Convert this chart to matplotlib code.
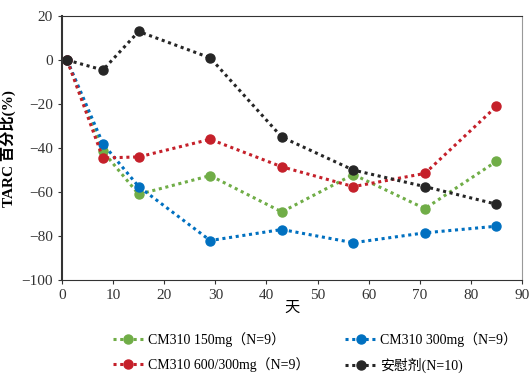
import matplotlib
matplotlib.use('Agg')
import matplotlib.pyplot as plt

plt.rcParams['font.family'] = ['Liberation Serif', 'Noto Sans CJK SC']

days = [1, 8, 15, 29, 43, 57, 71, 85]
cm150 = [0, -41.5, -61, -52.5, -69, -52, -67.5, -46]
cm300 = [0, -38, -57.5, -82, -77, -83, -78.5, -75.5]
cm600 = [0, -44.5, -44, -36, -48.5, -57.5, -51.5, -21]
placebo = [0, -4.5, 13, 1, -35, -50, -57.5, -65.5]

labels = ['CM310 150mg（N=9）', 'CM310 300mg（N=9）',
          'CM310 600/300mg（N=9）', '安慰剂(N=10)']
colors = ['#70ad47', '#0070c0', '#c5202a', '#262626']

fig = plt.figure(figsize=(5.3, 3.74), dpi=100)
ax = fig.add_axes([0.117, 0.251, 0.868, 0.706])

for ys, lab, c in zip([cm150, cm300, cm600, placebo], labels, colors):
    ax.plot(days, ys, linestyle=(0, (1, 1.2)), linewidth=2.2, color=c,
            marker='o', markersize=6.5, label=lab)

ax.set_xlim(0, 90)
ax.set_ylim(-100, 20)
ax.set_xticks(range(0, 91, 10))
ax.set_yticks(range(-100, 21, 20))
ax.tick_params(labelsize=11, colors='#333333', direction='out', length=3)
for s in ['left', 'bottom', 'top']:
    ax.spines[s].set_color('#333333')
ax.spines['right'].set_color('#999999')
ax.spines['left'].set_linewidth(1.5)

ax.set_xlabel('天', fontsize=11, labelpad=0)
ax.set_ylabel('TARC 百分比(%)', fontsize=11, fontweight='bold')

h, l = ax.get_legend_handles_labels()
order = [0, 2, 1, 3]
fig.legend([h[i] for i in order], [l[i] for i in order], ncol=2,
           loc='lower left', bbox_to_anchor=(0.19, -0.03), frameon=False,
           fontsize=10, handlelength=2.2, columnspacing=2.6, handletextpad=0.3,
           labelspacing=0.75)

fig.savefig('out.png', dpi=100)
